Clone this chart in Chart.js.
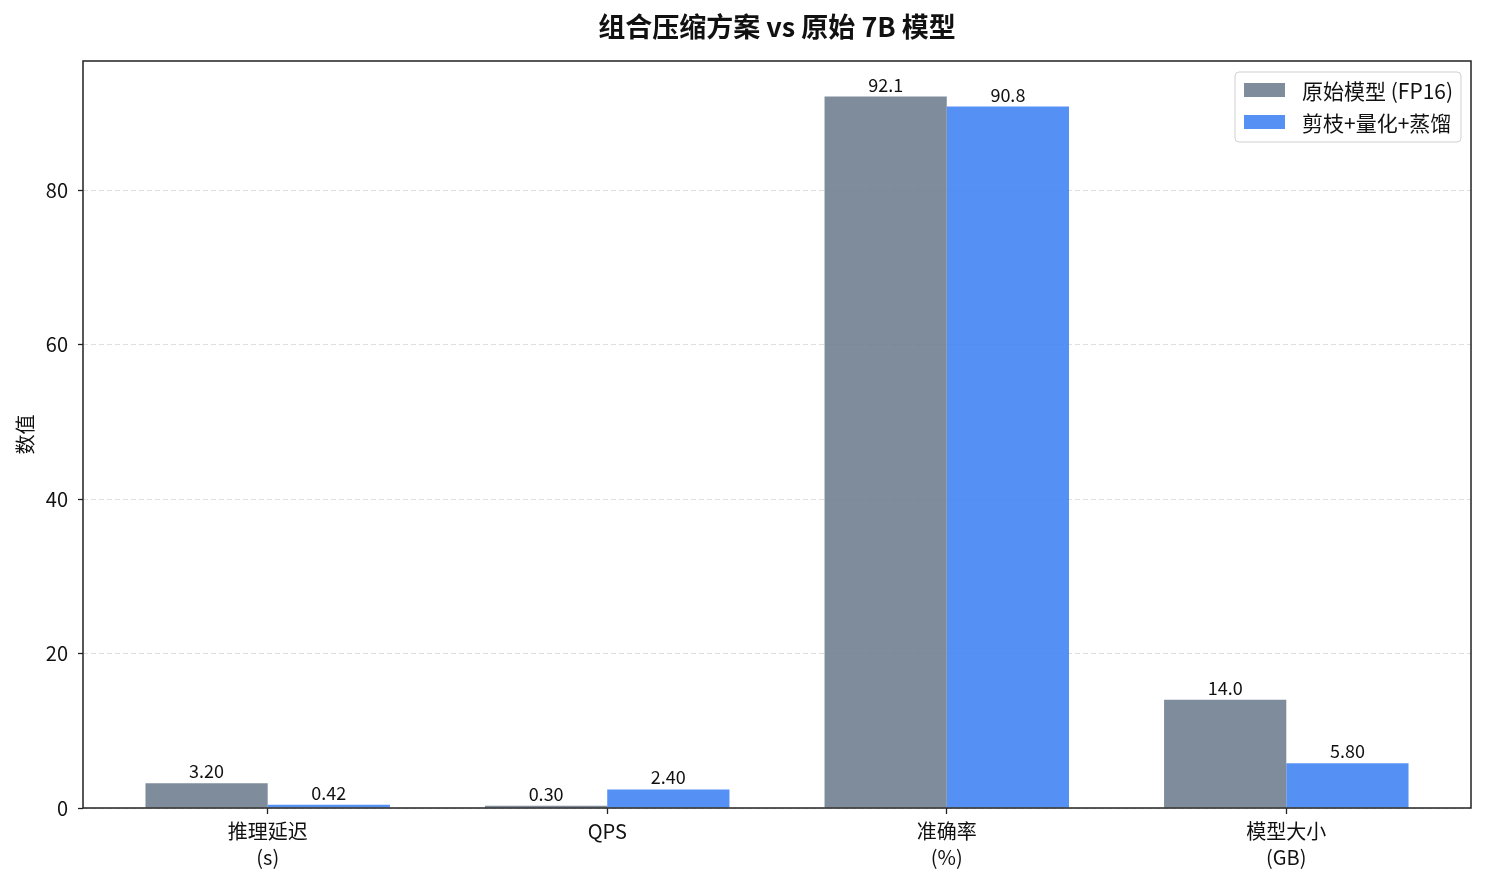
<!DOCTYPE html>
<html>
<head>
<meta charset="utf-8">
<script src="https://cdn.jsdelivr.net/npm/chart.js@4.4.1/dist/chart.umd.min.js"></script>
<style>
  body { margin: 0; background: #fff; }
  #wrap { width: 1486px; height: 885px; }
</style>
</head>
<body>
<div id="wrap"><canvas id="compressChart"></canvas></div>
<script>
// data
const categories = [['推理延迟', '(s)'], ['QPS'], ['准确率', '(%)'], ['模型大小', '(GB)']];
const seriesNames = ['原始模型 (FP16)', '剪枝+量化+蒸馏'];
const originalVals = [3.20, 0.30, 92.1, 14.0];
const compressedVals = [0.42, 2.40, 90.8, 5.80];
const yTicks = [0, 20, 40, 60, 80];
const chartTitle = '组合压缩方案 vs 原始 7B 模型';

const FONT = "'Noto Sans CJK SC', 'Noto Sans', sans-serif";
const GRAY = 'rgba(112,128,144,0.9)';
const BLUE = 'rgba(66,133,244,0.9)';

function fmt(v) {
  return v >= 10 ? v.toFixed(1) : v.toFixed(2);
}

// value labels on top of bars
const barLabels = {
  id: 'barLabels',
  afterDatasetsDraw(chart) {
    const ctx = chart.ctx;
    ctx.save();
    ctx.font = '18px ' + FONT;
    ctx.fillStyle = '#111';
    ctx.textAlign = 'center';
    ctx.textBaseline = 'alphabetic';
    chart.data.datasets.forEach((ds, di) => {
      chart.getDatasetMeta(di).data.forEach((bar, i) => {
        ctx.fillText(fmt(ds.data[i].y), bar.x, bar.y - 5);
      });
    });
    ctx.restore();
  }
};

// title centred on the axes, frame, legend box in upper right
const frameAndLegend = {
  id: 'frameAndLegend',
  afterDraw(chart) {
    const ctx = chart.ctx;
    const a = chart.chartArea;
    ctx.save();
    ctx.font = 'bold 27px ' + FONT;
    ctx.fillStyle = '#111';
    ctx.textAlign = 'center';
    ctx.textBaseline = 'middle';
    ctx.fillText(chartTitle, (a.left + a.right) / 2, 27);

    ctx.strokeStyle = '#222';
    ctx.lineWidth = 1.5;
    ctx.strokeRect(a.left, a.top, a.right - a.left, a.bottom - a.top);

    const bx = a.right - 236, by = a.top + 11, bw = 226, bh = 70;
    ctx.beginPath();
    ctx.roundRect(bx, by, bw, bh, 4);
    ctx.fillStyle = 'rgba(255,255,255,0.85)';
    ctx.fill();
    ctx.strokeStyle = '#d0d0d0';
    ctx.lineWidth = 1;
    ctx.stroke();

    ctx.font = '21px ' + FONT;
    ctx.textBaseline = 'middle';
    ctx.textAlign = 'left';
    chart.data.datasets.forEach((ds, i) => {
      const cy = by + 18 + i * 32;
      ctx.fillStyle = ds.backgroundColor;
      ctx.fillRect(bx + 9, cy - 7, 41, 14);
      ctx.fillStyle = '#111';
      ctx.fillText(ds.label, bx + 67, cy + 1);
    });
    ctx.restore();
  }
};

new Chart(document.getElementById('compressChart'), {
  type: 'bar',
  data: {
    datasets: [{
      label: seriesNames[0],
      data: originalVals.map((v, i) => ({ x: i, y: v })),
      backgroundColor: GRAY
    }, {
      label: seriesNames[1],
      data: compressedVals.map((v, i) => ({ x: i, y: v })),
      backgroundColor: BLUE
    }]
  },
  options: {
    responsive: true,
    maintainAspectRatio: false,
    animation: false,
    categoryPercentage: 0.72,
    barPercentage: 1.0,
    layout: { padding: { left: 0, right: 15, top: 61, bottom: 0 } },
    plugins: {
      legend: { display: false },
      tooltip: { enabled: false },
      title: { display: false }
    },
    scales: {
      x: {
        type: 'linear',
        min: -0.544,
        max: 3.544,
        offset: false,
        border: { display: false },
        grid: { offset: false, drawOnChartArea: false, drawTicks: true, tickLength: 6, tickColor: '#222', tickWidth: 1.3 },
        afterBuildTicks(scale) {
          scale.ticks = categories.map((c, i) => ({ value: i }));
        },
        ticks: {
          autoSkip: false,
          maxRotation: 0,
          padding: 4,
          color: '#111',
          font: { family: FONT, size: 20, lineHeight: 1.3 },
          callback: (v) => categories[v]
        },
        afterFit(scale) { scale.height = 77; }
      },
      y: {
        min: 0,
        max: 96.7,
        border: { display: false, dash: [5, 3] },
        grid: {
          color: 'rgba(176,176,176,0.4)',
          tickBorderDash: [],
          tickColor: '#222',
          tickLength: 5,
          tickWidth: 1.3,
          lineWidth: 1
        },
        afterBuildTicks(scale) {
          scale.ticks = yTicks.map(v => ({ value: v }));
        },
        ticks: {
          padding: 10,
          color: '#111',
          font: { family: FONT, size: 20 }
        },
        title: {
          display: true,
          text: '数值',
          color: '#111',
          font: { family: FONT, size: 20 },
          padding: { top: 13, bottom: 0 }
        },
        afterFit(scale) { scale.width = 83; }
      }
    }
  },
  plugins: [barLabels, frameAndLegend]
});
</script>
</body>
</html>
